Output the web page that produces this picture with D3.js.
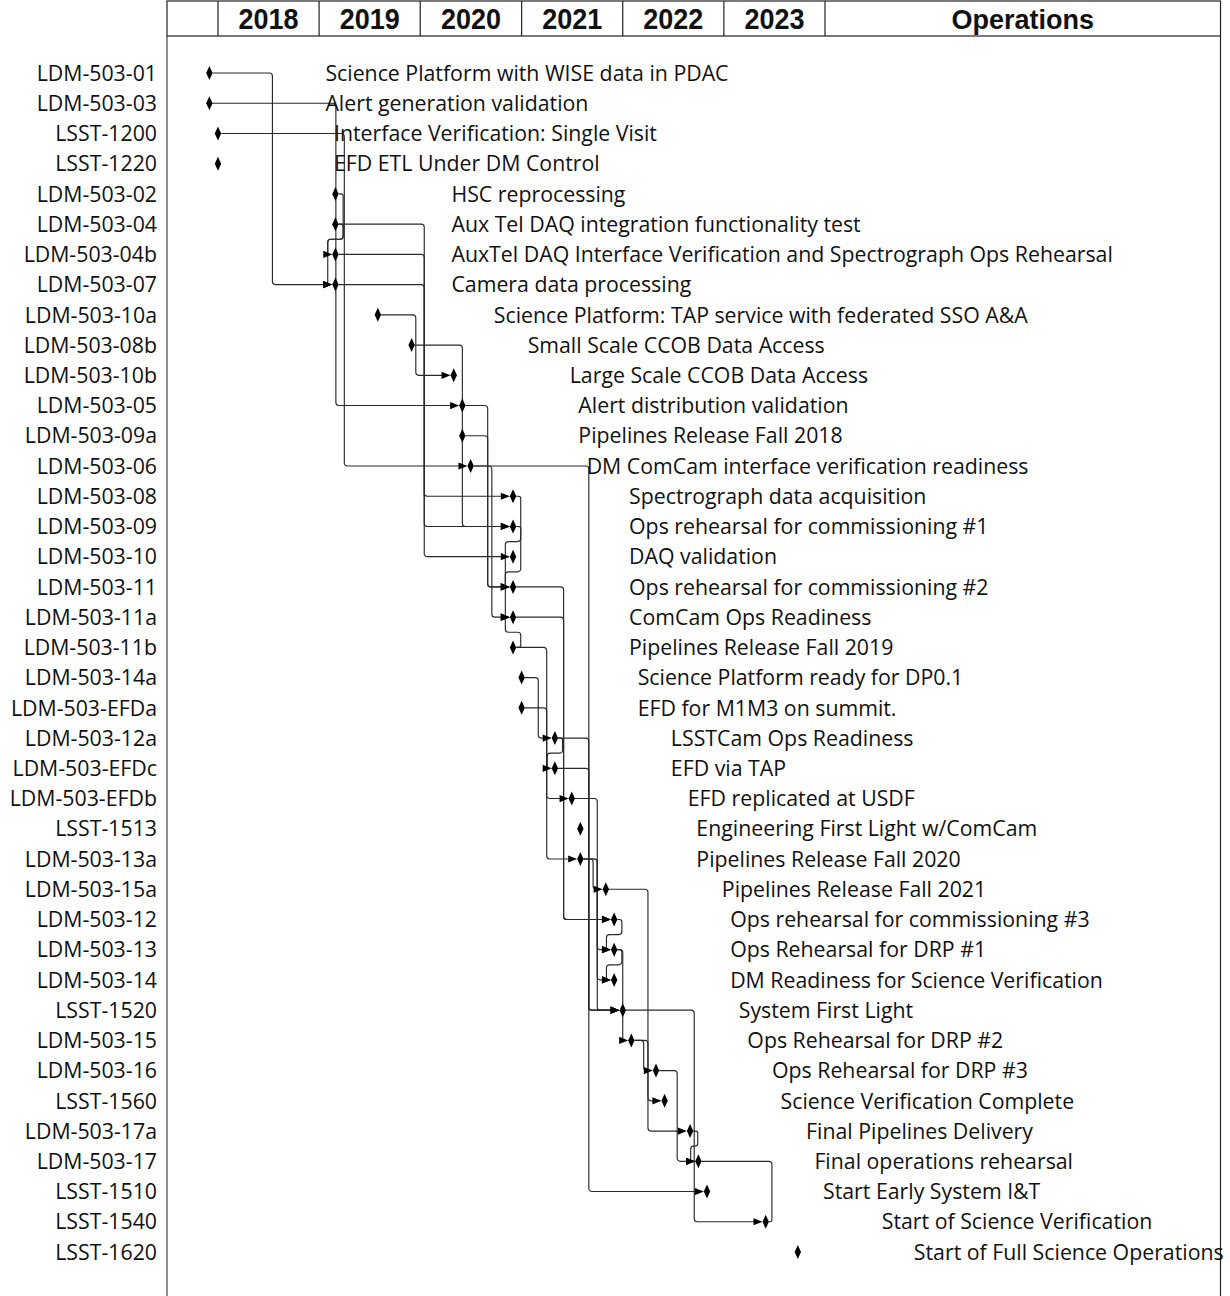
<!DOCTYPE html>
<html><head><meta charset="utf-8">
<script src="https://cdn.jsdelivr.net/npm/d3@7"></script>
<style>body{margin:0;background:#fff} svg{display:block}</style>
</head><body>
<svg id="chart" width="1230" height="1296"></svg>
<script>
// ---------------- data ----------------
const milestoneIds = ["LDM-503-01","LDM-503-03","LSST-1200","LSST-1220","LDM-503-02","LDM-503-04","LDM-503-04b","LDM-503-07","LDM-503-10a","LDM-503-08b","LDM-503-10b","LDM-503-05","LDM-503-09a","LDM-503-06","LDM-503-08","LDM-503-09","LDM-503-10","LDM-503-11","LDM-503-11a","LDM-503-11b","LDM-503-14a","LDM-503-EFDa","LDM-503-12a","LDM-503-EFDc","LDM-503-EFDb","LSST-1513","LDM-503-13a","LDM-503-15a","LDM-503-12","LDM-503-13","LDM-503-14","LSST-1520","LDM-503-15","LDM-503-16","LSST-1560","LDM-503-17a","LDM-503-17","LSST-1510","LSST-1540","LSST-1620"];
const milestoneNames = ["Science Platform with WISE data in PDAC","Alert generation validation","Interface Verification: Single Visit","EFD ETL Under DM Control","HSC reprocessing","Aux Tel DAQ integration functionality test","AuxTel DAQ Interface Verification and Spectrograph Ops Rehearsal","Camera data processing","Science Platform: TAP service with federated SSO A&A","Small Scale CCOB Data Access","Large Scale CCOB Data Access","Alert distribution validation","Pipelines Release Fall 2018","DM ComCam interface verification readiness","Spectrograph data acquisition","Ops rehearsal for commissioning #1","DAQ validation","Ops rehearsal for commissioning #2","ComCam Ops Readiness","Pipelines Release Fall 2019","Science Platform ready for DP0.1","EFD for M1M3 on summit.","LSSTCam Ops Readiness","EFD via TAP","EFD replicated at USDF","Engineering First Light w/ComCam","Pipelines Release Fall 2020","Pipelines Release Fall 2021","Ops rehearsal for commissioning #3","Ops Rehearsal for DRP #1","DM Readiness for Science Verification","System First Light","Ops Rehearsal for DRP #2","Ops Rehearsal for DRP #3","Science Verification Complete","Final Pipelines Delivery","Final operations rehearsal","Start Early System I&T","Start of Science Verification","Start of Full Science Operations"];
const milestoneDates = ["2017-12-01","2017-12-01","2018-01-01","2018-01-01","2019-03-01","2019-03-01","2019-03-01","2019-03-01","2019-08-01","2019-12-01","2020-05-01","2020-06-01","2020-06-01","2020-07-01","2020-12-01","2020-12-01","2020-12-01","2020-12-01","2020-12-01","2020-12-01","2021-01-01","2021-01-01","2021-05-01","2021-05-01","2021-07-01","2021-08-01","2021-08-01","2021-11-01","2021-12-01","2021-12-01","2021-12-01","2022-01-01","2022-02-01","2022-05-01","2022-06-01","2022-09-01","2022-10-01","2022-11-01","2023-06-01","2023-09-25"];
const yearLabels = ["2018","2019","2020","2021","2022","2023"];
const operationsLabel = "Operations";
// dependency links: [source, target, type]
const links = [
  ["LDM-503-01","LDM-503-07","auto"],
  ["LDM-503-03","LDM-503-05","auto"],
  ["LSST-1200","LDM-503-06","auto"],
  ["LDM-503-02","LDM-503-07","auto"],
  ["LDM-503-04","LDM-503-04b","auto"],
  ["LDM-503-04","LDM-503-08","auto"],
  ["LDM-503-07","LDM-503-09","auto"],
  ["LDM-503-04b","LDM-503-10","auto"],
  ["LDM-503-10a","LDM-503-10b","auto"],
  ["LDM-503-08b","LDM-503-09","auto"],
  ["LDM-503-05","LDM-503-11","auto"],
  ["LDM-503-09a","LDM-503-11","auto"],
  ["LDM-503-06","LDM-503-11a","auto"],
  ["LDM-503-06","LSST-1510","auto"],
  ["LDM-503-08","LDM-503-11","auto"],
  ["LDM-503-09","LDM-503-11a","auto"],
  ["LDM-503-11b","LDM-503-11a","auto"],
  ["LDM-503-11","LDM-503-12","auto"],
  ["LDM-503-11a","LDM-503-12","auto"],
  ["LDM-503-11b","LDM-503-13a","auto"],
  ["LDM-503-14a","LDM-503-12a","auto"],
  ["LDM-503-EFDa","LDM-503-EFDb","auto"],
  ["LDM-503-12a","LDM-503-EFDc","auto"],
  ["LDM-503-12a","LSST-1520","auto"],
  ["LDM-503-EFDc","LSST-1520","auto"],
  ["LDM-503-EFDb","LSST-1520","auto"],
  ["LDM-503-13a","LDM-503-15a","auto"],
  ["LDM-503-13a","LDM-503-13","auto"],
  ["LDM-503-13a","LDM-503-14","auto"],
  ["LDM-503-12","LDM-503-13","auto"],
  ["LDM-503-13","LDM-503-14","auto"],
  ["LDM-503-13","LDM-503-15","auto"],
  ["LDM-503-15a","LDM-503-17a","auto"],
  ["LSST-1520","LSST-1540","auto"],
  ["LDM-503-15","LDM-503-16","auto"],
  ["LDM-503-15","LSST-1560","auto"],
  ["LDM-503-16","LDM-503-17","auto"],
  ["LDM-503-17a","LDM-503-17","auto"],
  ["LDM-503-17","LSST-1540","ff"]
];

// ---------------- layout ----------------
const W = 1230, H = 1296;
const frameLeft = 167, frameRight = 1220.5, headTop = 1, headBottom = 36;
const parse = d3.utcParse("%Y-%m-%d");
const x = d3.scaleUtc()
  .domain([new Date(Date.UTC(2017,6,1)), new Date(Date.UTC(2024,0,1))])
  .range([frameLeft, 825]);
const y = d3.scalePoint().domain(milestoneIds).range([73, 1252]);

const ms = milestoneIds.map((id,i)=>({id, name:milestoneNames[i], date:parse(milestoneDates[i])}));
const byId = new Map(ms.map(d=>[d.id,d]));

const svg = d3.select("#chart");
const FONT = "'Open Sans', 'Noto Sans', sans-serif";
const FS = "21.3px";

// header
const head = svg.append("g");
head.append("rect").attr("x",frameLeft).attr("y",headTop)
  .attr("width",frameRight-frameLeft).attr("height",headBottom-headTop)
  .attr("fill","none").attr("stroke","#222").attr("stroke-width",1.2);
const yearCells = yearLabels.map(s=>({label:s, x0:x(new Date(Date.UTC(+s,0,1))), x1:x(new Date(Date.UTC(+s+1,0,1)))}));
head.selectAll("line.div").data(yearCells).join("line")
  .attr("x1",d=>d.x0).attr("x2",d=>d.x0).attr("y1",headTop).attr("y2",headBottom)
  .attr("stroke","#222").attr("stroke-width",1.2);
const lastX = yearCells[yearCells.length-1].x1;
head.append("line").attr("x1",lastX).attr("x2",lastX).attr("y1",headTop).attr("y2",headBottom)
  .attr("stroke","#222").attr("stroke-width",1.2);
head.selectAll("text.yr").data(yearCells).join("text")
  .attr("transform",d=>`translate(${(d.x0+d.x1)/2},29) scale(0.93,1)`)
  .attr("text-anchor","middle")
  .style("font-family","'Liberation Sans', Arial, sans-serif").style("font-weight","bold")
  .style("font-size","29px").attr("fill","#111").text(d=>d.label);
head.append("text").attr("x",(lastX+frameRight)/2).attr("y",29).attr("text-anchor","middle")
  .style("font-family","'Liberation Sans', Arial, sans-serif").style("font-weight","bold")
  .style("font-size","27px").attr("fill","#111").text(operationsLabel);

// frame lines
svg.append("line").attr("x1",frameLeft).attr("x2",frameLeft).attr("y1",headBottom).attr("y2",H)
  .attr("stroke","#444").attr("stroke-width",1.2);
svg.append("line").attr("x1",frameRight).attr("x2",frameRight).attr("y1",headBottom).attr("y2",H)
  .attr("stroke","#222").attr("stroke-width",1.2);

// links
const HW = 3.2, HH = 7, BULGE = 4.5, ARROW = 9;
function rounded(pts, r){
  const p = d3.path();
  p.moveTo(pts[0][0], pts[0][1]);
  for(let i=1;i<pts.length-1;i++){
    const [x0,y0]=pts[i-1],[x1,y1]=pts[i],[x2,y2]=pts[i+1];
    const l1=Math.hypot(x1-x0,y1-y0), l2=Math.hypot(x2-x1,y2-y1);
    const rr=Math.min(r,l1/2,l2/2);
    if(rr<0.5) p.lineTo(x1,y1); else p.arcTo(x1,y1,x2,y2,rr);
  }
  const l=pts[pts.length-1]; p.lineTo(l[0],l[1]);
  return p.toString();
}
const linkGeom = links.map(([s,t,type])=>{
  const S=byId.get(s), T=byId.get(t);
  const xL=x(S.date)+HW, y1=y(s), xR=x(T.date)-HW, y2=y(t);
  let pts, arrow=true;
  if(type==="ff"){
    const xTR = x(T.date)+HW;
    const xm = Math.max(xL,xTR)+3;
    pts=[[xL,y1],[xm,y1],[xm,y2],[xTR,y2]]; arrow=false;
  } else if(xR-xL>4){
    const xm=(xL+xR)/2;
    pts=[[xL,y1],[xm,y1],[xm,y2],[xR-2,y2]];
  } else {
    const ym=(y1+y2)/2;
    pts=[[xL,y1],[xL+BULGE,y1],[xL+BULGE,ym],[xR-BULGE,ym],[xR-BULGE,y2],[xR-2,y2]];
  }
  return {d:rounded(pts,3), arrow, tx:xR, ty:y2};
});
const lg = svg.append("g");
lg.selectAll("path.link").data(linkGeom).join("path")
  .attr("d",d=>d.d).attr("fill","none").attr("stroke","#2a2a2a").attr("stroke-width",1.15);
lg.selectAll("path.arrow").data(linkGeom.filter(d=>d.arrow)).join("path")
  .attr("d",d=>`M${d.tx},${d.ty}L${d.tx-ARROW},${d.ty-3.6}L${d.tx-ARROW},${d.ty+3.6}Z`)
  .attr("fill","#000");

// milestones
svg.append("g").selectAll("path.ms").data(ms).join("path")
  .attr("d",d=>{const cx=x(d.date), cy=y(d.id);
    return `M${cx},${cy-HH}L${cx+HW},${cy}L${cx},${cy+HH}L${cx-HW},${cy}Z`;})
  .attr("fill","#000");

// labels
svg.append("g").selectAll("text.id").data(ms).join("text")
  .attr("x",157).attr("y",d=>y(d.id)).attr("dy","0.36em").attr("text-anchor","end")
  .style("font-family",FONT).style("font-size",FS).attr("fill","#111").text(d=>d.id);
svg.append("g").selectAll("text.nm").data(ms).join("text")
  .attr("x",d=>x(d.date)+116).attr("y",d=>y(d.id)).attr("dy","0.36em")
  .style("font-family",FONT).style("font-size",FS).attr("fill","#111").text(d=>d.name);
</script>
</body></html>
